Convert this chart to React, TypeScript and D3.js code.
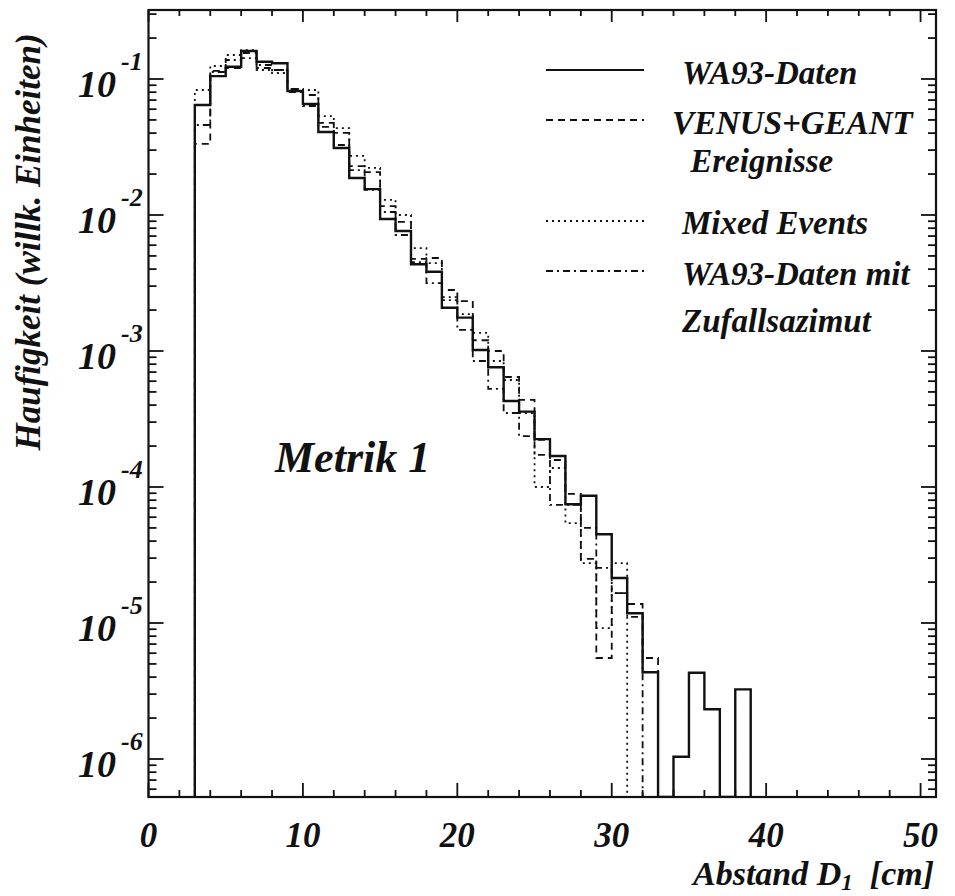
import React from "react";
import * as d3 from "d3";

// Histogram bins: 1 cm wide, first bin starts at 3 cm
const binStart = 3;
const binWidth = 1;

// WA93-Daten (bins 3..38 cm)
const wa93Daten = [
  0.0644, 0.105, 0.1231, 0.1607, 0.134, 0.1304, 0.0816, 0.0655, 0.0408, 0.0311,
  0.0187, 0.0155, 0.00935, 0.00762, 0.00434, 0.00383, 0.00208, 0.00176, 0.001017, 0.000759,
  0.000429, 0.000358, 0.000225, 0.000169, 7.46e-5, 8.63e-5, 4.49e-5, 2.14e-5, 1.18e-5, 4.34e-6,
  0, 1.04e-6, 4.31e-6, 2.32e-6, 0, 3.25e-6,
];

// VENUS+GEANT Ereignisse (bins 3..32 cm)
const venusGeant = [
  0.0333, 0.1146, 0.1205, 0.1553, 0.1205, 0.1165, 0.0844, 0.0763, 0.0475, 0.0401,
  0.0229, 0.0207, 0.01164, 0.00889, 0.00475, 0.00483, 0.00281, 0.00233, 0.0012, 0.001,
  0.000644, 0.000437, 0.000222, 0.000158, 8.89e-5, 2.96e-5, 5.53e-6, 1.66e-5, 1.38e-5, 5.53e-6,
];

// Mixed Events (bins 3..30 cm)
const mixedEvents = [
  0.083, 0.1246, 0.1501, 0.1633, 0.1165, 0.1107, 0.0844, 0.083, 0.0534, 0.0436,
  0.0272, 0.0222, 0.0129, 0.01, 0.00571, 0.00443, 0.00249, 0.00187, 0.00136, 0.000844,
  0.000612, 0.00035, 0.0001, 0.000138, 5.43e-5, 2.76e-5, 9.18e-6, 2.76e-5,
];

// WA93-Daten mit Zufallsazimut (bins 3..31 cm)
const zufallsazimut = [
  0.0459, 0.1126, 0.138, 0.1426, 0.1268, 0.1165, 0.0802, 0.0633, 0.0444, 0.0327,
  0.0214, 0.01528, 0.01052, 0.00713, 0.00451, 0.00316, 0.00237, 0.00143, 0.000844, 0.000526,
  0.00035, 0.000237, 0.000172, 7.38e-5, 7.38e-5, 5.0e-5, 2.54e-5, 1.66e-5, 1.11e-5,
];

const xTickLabels = [0, 10, 20, 30, 40, 50];
const yDecades = [-1, -2, -3, -4, -5, -6];

const legendEntries = [
  { lines: ["WA93-Daten"], dash: "none" },
  { lines: ["VENUS+GEANT", " Ereignisse"], dash: "7 5" },
  { lines: ["Mixed Events"], dash: "2 4" },
  { lines: ["WA93-Daten mit", "Zufallsazimut"], dash: "7 4 2 4" },
];

const W = 955;
const H = 896;
const frame = { left: 148.5, right: 936, top: 10, bottom: 797 };
const font = "'Liberation Serif', 'Times New Roman', serif";

const x = d3.scaleLinear().domain([0, 51]).range([frame.left, frame.right]);
const y = d3.scaleLog().domain([1e-6, 1e-1]).range([759, 79]);

function yOf(v: number) {
  if (v <= 0) return frame.bottom;
  return Math.min(frame.bottom, Math.max(frame.top, y(v)));
}

function stepPath(values: number[]) {
  const pts: [number, number][] = [];
  pts.push([x(binStart), frame.bottom]);
  values.forEach((v, i) => {
    const x0 = x(binStart + i * binWidth);
    const x1 = x(binStart + (i + 1) * binWidth);
    pts.push([x0, yOf(v)]);
    pts.push([x1, yOf(v)]);
  });
  pts.push([x(binStart + values.length * binWidth), frame.bottom]);
  return d3.line()(pts) || "";
}

export default function App() {
  const yMin = y.invert(frame.bottom);
  const yMax = y.invert(frame.top);
  const yTicks: { v: number; major: boolean }[] = [];
  for (let e = -7; e <= 0; e++) {
    for (let m = 1; m <= 9; m++) {
      const v = m * Math.pow(10, e);
      if (v >= yMin && v <= yMax) yTicks.push({ v, major: m === 1 });
    }
  }
  const xTicks = d3.range(0, 51, 2).map((v) => ({ v, major: v % 10 === 0 }));

  const series = [
    { data: mixedEvents, dash: "2 4", width: 1.8 },
    { data: zufallsazimut, dash: "7 4 2 4", width: 1.8 },
    { data: venusGeant, dash: "7 5", width: 1.8 },
    { data: wa93Daten, dash: "none", width: 2.4 },
  ];

  const legendRows = [84, 134, 234, 285];
  const legendLineY = [70, 120, 221, 271];

  return (
    <svg width={W} height={H} viewBox={`0 0 ${W} ${H}`} style={{ display: "block", position: "absolute", left: 0, top: 0 }}>
      <rect x={0} y={0} width={W} height={H} fill="#fff" />
      <defs>
        <clipPath id="plotArea">
          <rect x={frame.left} y={frame.top} width={frame.right - frame.left} height={frame.bottom - frame.top} />
        </clipPath>
      </defs>

      {/* histograms */}
      <g clipPath="url(#plotArea)" fill="none" stroke="#111">
        {series.map((s, i) => (
          <path key={i} d={stepPath(s.data)} strokeWidth={s.width} strokeDasharray={s.dash} />
        ))}
      </g>

      {/* frame */}
      <rect x={frame.left} y={frame.top} width={frame.right - frame.left} height={frame.bottom - frame.top}
        fill="none" stroke="#111" strokeWidth={2.2} />

      {/* x ticks (bottom and top) */}
      <g stroke="#111" strokeWidth={1.8}>
        {xTicks.map((t, i) => {
          const len = t.major ? 14 : 7;
          const xx = x(t.v);
          return (
            <g key={i}>
              <line x1={xx} x2={xx} y1={frame.bottom} y2={frame.bottom - len} />
              <line x1={xx} x2={xx} y1={frame.top} y2={frame.top + (t.major ? 12 : 6)} />
            </g>
          );
        })}
      </g>

      {/* y ticks (left and right) */}
      <g stroke="#111" strokeWidth={1.8}>
        {yTicks.map((t, i) => {
          const len = t.major ? 15 : 8;
          const yy = y(t.v);
          return (
            <g key={i}>
              <line x1={frame.left} x2={frame.left + len} y1={yy} y2={yy} />
              <line x1={frame.right} x2={frame.right - len} y1={yy} y2={yy} />
            </g>
          );
        })}
      </g>

      {/* x tick labels */}
      <g fontFamily={font} fontWeight="bold" fontStyle="italic" fontSize={35} textAnchor="middle" fill="#111">
        {xTickLabels.map((v) => (
          <text key={v} x={x(v)} y={847}>{v}</text>
        ))}
      </g>

      {/* y tick labels */}
      <g fontFamily={font} fontWeight="bold" fontStyle="italic" fill="#111">
        {yDecades.map((e) => {
          const yy = y(Math.pow(10, e));
          return (
            <g key={e}>
              <text x={116} y={yy + 18} fontSize={38} textAnchor="end">10</text>
              <text x={121} y={yy - 9} fontSize={26} textAnchor="start">{`-${-e}`}</text>
            </g>
          );
        })}
      </g>

      {/* axis titles */}
      <text x={934} y={885} fontFamily={font} fontWeight="bold" fontStyle="italic" fontSize={34} textAnchor="end" fill="#111">
        Abstand D<tspan fontSize={23} dy={5}>1</tspan><tspan dy={-5} xmlSpace="preserve">{"  [cm]"}</tspan>
      </text>
      <text transform="translate(40,242) rotate(-90)" fontFamily={font} fontWeight="bold" fontStyle="italic" fontSize={35}
        textAnchor="middle" fill="#111">
        Haufigkeit (willk. Einheiten)
      </text>

      {/* annotation */}
      <text x={275} y={472} fontFamily={font} fontWeight="bold" fontStyle="italic" fontSize={44} fill="#111">
        Metrik 1
      </text>

      {/* legend */}
      <g fontFamily={font} fontWeight="bold" fontStyle="italic" fontSize={33} fill="#111">
        {legendEntries.map((le, i) => (
          <g key={i}>
            <line x1={546} x2={644} y1={legendLineY[i]} y2={legendLineY[i]} stroke="#111"
              strokeWidth={i === 0 ? 2.2 : 1.8} strokeDasharray={le.dash} />
            {le.lines.map((ln, j) => (
              <text key={j} x={i === 1 && j === 0 ? 672 : 682} y={legendRows[i] + j * (i === 1 ? 38 : 47)} xmlSpace="preserve">{ln}</text>
            ))}
          </g>
        ))}
      </g>
    </svg>
  );
}
